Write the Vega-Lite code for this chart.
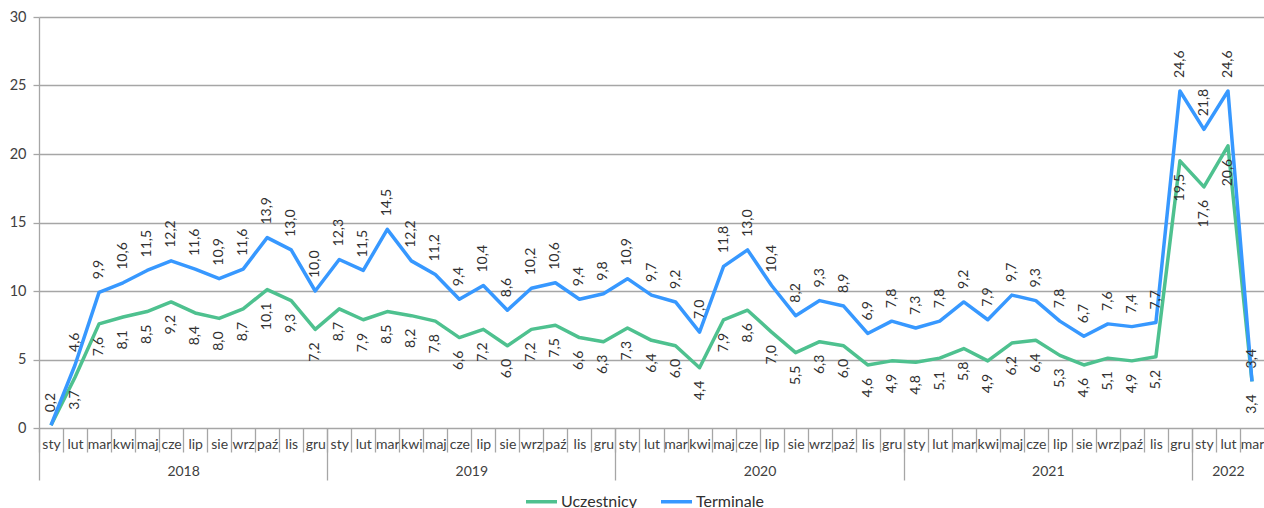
{
  "$schema": "https://vega.github.io/schema/vega-lite/v6.json",
  "width": 1225,
  "height": 411,
  "autosize": {"type": "none"},
  "padding": {"left": 39, "top": 17, "right": 0, "bottom": 80},
  "background": "white",
  "config": {
    "locale": {"number": {"decimal": ",", "thousands": " ", "grouping": [3], "currency": ["", " zł"]}},
    "font": "Lato",
    "view": {"stroke": null},
    "axis": {"labelFont": "Lato", "labelColor": "#404040", "labelFontSize": 14, "domainColor": "#a6a6a6", "tickColor": "#a6a6a6", "gridColor": "#a6a6a6", "titleFont": "Lato"}
  },
  "data": {"values": [
    {"i": 0, "rok": 2018, "Uczestnicy": 0.2, "Terminale": 0.2},
    {"i": 1, "rok": 2018, "Uczestnicy": 3.7, "Terminale": 4.6},
    {"i": 2, "rok": 2018, "Uczestnicy": 7.6, "Terminale": 9.9},
    {"i": 3, "rok": 2018, "Uczestnicy": 8.1, "Terminale": 10.6},
    {"i": 4, "rok": 2018, "Uczestnicy": 8.5, "Terminale": 11.5},
    {"i": 5, "rok": 2018, "Uczestnicy": 9.2, "Terminale": 12.2},
    {"i": 6, "rok": 2018, "Uczestnicy": 8.4, "Terminale": 11.6},
    {"i": 7, "rok": 2018, "Uczestnicy": 8.0, "Terminale": 10.9},
    {"i": 8, "rok": 2018, "Uczestnicy": 8.7, "Terminale": 11.6},
    {"i": 9, "rok": 2018, "Uczestnicy": 10.1, "Terminale": 13.9},
    {"i": 10, "rok": 2018, "Uczestnicy": 9.3, "Terminale": 13.0},
    {"i": 11, "rok": 2018, "Uczestnicy": 7.2, "Terminale": 10.0},
    {"i": 12, "rok": 2019, "Uczestnicy": 8.7, "Terminale": 12.3},
    {"i": 13, "rok": 2019, "Uczestnicy": 7.9, "Terminale": 11.5},
    {"i": 14, "rok": 2019, "Uczestnicy": 8.5, "Terminale": 14.5},
    {"i": 15, "rok": 2019, "Uczestnicy": 8.2, "Terminale": 12.2},
    {"i": 16, "rok": 2019, "Uczestnicy": 7.8, "Terminale": 11.2},
    {"i": 17, "rok": 2019, "Uczestnicy": 6.6, "Terminale": 9.4},
    {"i": 18, "rok": 2019, "Uczestnicy": 7.2, "Terminale": 10.4},
    {"i": 19, "rok": 2019, "Uczestnicy": 6.0, "Terminale": 8.6},
    {"i": 20, "rok": 2019, "Uczestnicy": 7.2, "Terminale": 10.2},
    {"i": 21, "rok": 2019, "Uczestnicy": 7.5, "Terminale": 10.6},
    {"i": 22, "rok": 2019, "Uczestnicy": 6.6, "Terminale": 9.4},
    {"i": 23, "rok": 2019, "Uczestnicy": 6.3, "Terminale": 9.8},
    {"i": 24, "rok": 2020, "Uczestnicy": 7.3, "Terminale": 10.9},
    {"i": 25, "rok": 2020, "Uczestnicy": 6.4, "Terminale": 9.7},
    {"i": 26, "rok": 2020, "Uczestnicy": 6.0, "Terminale": 9.2},
    {"i": 27, "rok": 2020, "Uczestnicy": 4.4, "Terminale": 7.0},
    {"i": 28, "rok": 2020, "Uczestnicy": 7.9, "Terminale": 11.8},
    {"i": 29, "rok": 2020, "Uczestnicy": 8.6, "Terminale": 13.0},
    {"i": 30, "rok": 2020, "Uczestnicy": 7.0, "Terminale": 10.4},
    {"i": 31, "rok": 2020, "Uczestnicy": 5.5, "Terminale": 8.2},
    {"i": 32, "rok": 2020, "Uczestnicy": 6.3, "Terminale": 9.3},
    {"i": 33, "rok": 2020, "Uczestnicy": 6.0, "Terminale": 8.9},
    {"i": 34, "rok": 2020, "Uczestnicy": 4.6, "Terminale": 6.9},
    {"i": 35, "rok": 2020, "Uczestnicy": 4.9, "Terminale": 7.8},
    {"i": 36, "rok": 2021, "Uczestnicy": 4.8, "Terminale": 7.3},
    {"i": 37, "rok": 2021, "Uczestnicy": 5.1, "Terminale": 7.8},
    {"i": 38, "rok": 2021, "Uczestnicy": 5.8, "Terminale": 9.2},
    {"i": 39, "rok": 2021, "Uczestnicy": 4.9, "Terminale": 7.9},
    {"i": 40, "rok": 2021, "Uczestnicy": 6.2, "Terminale": 9.7},
    {"i": 41, "rok": 2021, "Uczestnicy": 6.4, "Terminale": 9.3},
    {"i": 42, "rok": 2021, "Uczestnicy": 5.3, "Terminale": 7.8},
    {"i": 43, "rok": 2021, "Uczestnicy": 4.6, "Terminale": 6.7},
    {"i": 44, "rok": 2021, "Uczestnicy": 5.1, "Terminale": 7.6},
    {"i": 45, "rok": 2021, "Uczestnicy": 4.9, "Terminale": 7.4},
    {"i": 46, "rok": 2021, "Uczestnicy": 5.2, "Terminale": 7.7},
    {"i": 47, "rok": 2021, "Uczestnicy": 19.5, "Terminale": 24.6},
    {"i": 48, "rok": 2022, "Uczestnicy": 17.6, "Terminale": 21.8},
    {"i": 49, "rok": 2022, "Uczestnicy": 20.6, "Terminale": 24.6},
    {"i": 50, "rok": 2022, "Uczestnicy": 3.4, "Terminale": 3.4}
  ]},
  "layer": [
    {
      "mark": {"type": "line", "strokeWidth": 3.5, "strokeJoin": "round"},
      "encoding": {
        "x": {"field": "i", "type": "quantitative", "scale": {"domain": [-0.5, 50.5], "nice": false, "zero": false},
          "axis": {"orient": "bottom", "title": null, "grid": false, "domain": false, "ticks": false,
            "values": [0,1,2,3,4,5,6,7,8,9,10,11,12,13,14,15,16,17,18,19,20,21,22,23,24,25,26,27,28,29,30,31,32,33,34,35,36,37,38,39,40,41,42,43,44,45,46,47,48,49,50],
            "labelExpr": "['sty','lut','mar','kwi','maj','cze','lip','sie','wrz','paź','lis','gru'][datum.value % 12]",
            "labelPadding": 9, "labelFlush": false, "labelOverlap": false, "labelBound": false}},
        "y": {"field": "Uczestnicy", "type": "quantitative", "scale": {"domain": [0, 30], "nice": false},
          "axis": {"title": null, "values": [0,5,10,15,20,25,30], "grid": true, "gridWidth": 1.3, "domain": true, "domainWidth": 1.3, "ticks": true, "tickSize": 6, "tickWidth": 1.3, "labelPadding": 7, "labelFontSize": 14.5}},
        "color": {"datum": "Uczestnicy", "type": "nominal",
          "scale": {"domain": ["Uczestnicy", "Terminale"], "range": ["#4EC18F", "#3798FF"]},
          "legend": {"title": null, "orient": "none", "legendX": 485, "legendY": 467, "direction": "horizontal",
            "symbolType": "stroke", "symbolStrokeWidth": 3.5, "symbolSize": 961, "labelFont": "Lato", "labelFontSize": 16,
            "labelColor": "#303030", "labelOffset": 2, "columnPadding": 17,
            "encode": {"symbols": {"update": {"stroke": {"scale": "color", "field": "value"}}}}}}
      }
    },
    {
      "mark": {"type": "line", "strokeWidth": 3.5, "strokeJoin": "round"},
      "encoding": {
        "x": {"field": "i", "type": "quantitative",
          "axis": {"orient": "bottom", "title": null, "grid": false, "domain": false, "labels": false, "ticks": true, "tickSize": 24, "tickWidth": 1.3,
            "values": [-0.5,0.5,1.5,2.5,3.5,4.5,5.5,6.5,7.5,8.5,9.5,10.5,11.5,12.5,13.5,14.5,15.5,16.5,17.5,18.5,19.5,20.5,21.5,22.5,23.5,24.5,25.5,26.5,27.5,28.5,29.5,30.5,31.5,32.5,33.5,34.5,35.5,36.5,37.5,38.5,39.5,40.5,41.5,42.5,43.5,44.5,45.5,46.5,47.5,48.5,49.5]}},
        "y": {"field": "Terminale", "type": "quantitative",
          "axis": {"title": null, "values": [0,5,10,15,20,25,30], "grid": true, "gridWidth": 1.3, "domain": true, "domainWidth": 1.3, "ticks": true, "tickSize": 6, "tickWidth": 1.3, "labelPadding": 7, "labelFontSize": 14.5}},
        "color": {"datum": "Terminale", "type": "nominal"}
      }
    },
    {
      "mark": {"type": "text", "angle": 270, "align": "right", "baseline": "middle", "dx": -13, "font": "Lato", "fontSize": 14, "color": "#303030", "clip": true},
      "encoding": {
        "x": {"field": "i", "type": "quantitative",
          "axis": {"orient": "bottom", "title": null, "grid": false, "domain": false, "labels": false, "ticks": true, "tickSize": 52, "tickWidth": 1.3,
            "values": [-0.5, 11.5, 23.5, 35.5, 47.5]}},
        "y": {"field": "Uczestnicy", "type": "quantitative",
          "axis": {"title": null, "values": [0,5,10,15,20,25,30], "grid": true, "gridWidth": 1.3, "domain": true, "domainWidth": 1.3, "ticks": true, "tickSize": 6, "tickWidth": 1.3, "labelPadding": 7, "labelFontSize": 14.5}},
        "text": {"field": "Uczestnicy", "type": "quantitative", "format": ".1f"}
      }
    },
    {
      "mark": {"type": "text", "angle": 270, "align": "left", "baseline": "middle", "dx": 13, "font": "Lato", "fontSize": 14, "color": "#303030"},
      "encoding": {
        "x": {"field": "i", "type": "quantitative",
          "axis": {"orient": "bottom", "title": null, "grid": false, "domain": false, "ticks": false,
            "values": [5.5, 17.5, 29.5, 41.5, 49],
            "labelExpr": "datum.value < 11.5 ? '2018' : datum.value < 23.5 ? '2019' : datum.value < 35.5 ? '2020' : datum.value < 47.5 ? '2021' : '2022'",
            "labelPadding": 36, "labelFlush": false, "labelOverlap": false}},
        "y": {"field": "Terminale", "type": "quantitative",
          "axis": {"title": null, "values": [0,5,10,15,20,25,30], "grid": true, "gridWidth": 1.3, "domain": true, "domainWidth": 1.3, "ticks": true, "tickSize": 6, "tickWidth": 1.3, "labelPadding": 7, "labelFontSize": 14.5}},
        "text": {"field": "Terminale", "type": "quantitative", "format": ".1f"}
      }
    }
  ],
  "resolve": {"axis": {"x": "independent"}}
}
